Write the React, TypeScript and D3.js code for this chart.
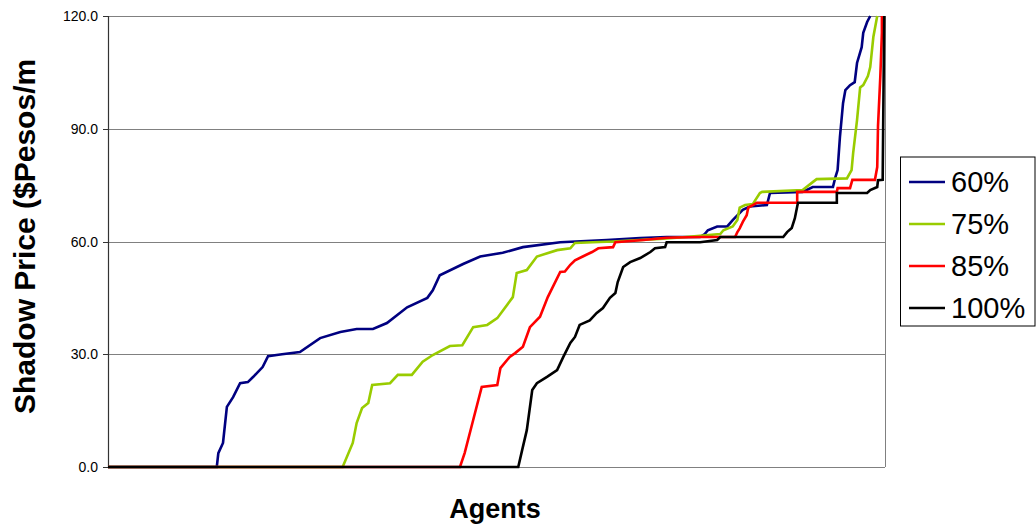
import React from "react";
import * as d3 from "d3";

// Agent index (0..1000) vs shadow price
const series60: [number, number][] = [
  [0, 0], [140, 0], [142, 3.7], [148, 6.4], [153, 16], [161, 18.6], [170, 22.3], [180, 22.6], [187, 24],
  [199, 26.6], [206, 29.5], [224, 30], [247, 30.6], [273, 34.3], [299, 35.9], [320, 36.7], [341, 36.7],
  [359, 38.3], [385, 42.5], [411, 45], [418, 47], [427, 51], [457, 54], [479, 56], [508, 57], [534, 58.5],
  [582, 59.8], [642, 60.4], [685, 60.9], [719, 61.2], [762, 61.2], [768, 62], [772, 63], [784, 64],
  [797, 64], [804, 65.7], [817, 68.4], [826, 69.3], [848, 69.7], [852, 72.9], [894, 73.2], [907, 74.5],
  [933, 74.5], [936, 77], [939, 79], [942, 87.8], [946, 96.8], [949, 100.3], [955, 101.6], [961, 102.4],
  [964, 107.5], [970, 111.7], [972, 115.5], [977, 118.4], [981, 120],
];
const series75: [number, number][] = [
  [0, 0], [302, 0], [315, 6.4], [320, 11.7], [327, 15.7], [335, 17], [340, 21.8], [363, 22.3], [373, 24.5],
  [391, 24.5], [405, 28], [418, 29.8], [440, 32.2], [456, 32.4], [470, 37.2], [488, 37.8], [501, 39.6],
  [521, 45.2], [526, 51.6], [539, 52.4], [552, 56], [578, 57.7], [595, 58.2], [601, 59.6], [624, 59.8],
  [650, 60], [710, 60.7], [732, 61], [788, 62], [792, 63], [804, 64], [810, 65.7], [813, 69], [820, 69.7],
  [830, 70], [839, 72.9], [842, 73.2], [894, 73.7], [907, 75.8], [912, 76.6], [951, 76.8], [957, 79],
  [959, 83.5], [964, 92.3], [968, 101], [972, 101.6], [978, 104], [981, 106.4], [985, 114.4], [990, 120],
];
const series85: [number, number][] = [
  [0, 0], [453, 0], [459, 3.7], [470, 12.5], [481, 21.3], [501, 21.8], [505, 26.3], [517, 29.3],
  [524, 30.3], [534, 32], [543, 37.2], [556, 40], [566, 45.2], [582, 51.9], [588, 52], [595, 53.8],
  [601, 55], [611, 56], [623, 57.2], [631, 58.2], [650, 58.5], [653, 59.8], [689, 60.4], [719, 61],
  [762, 61.2], [807, 61.2], [810, 62.5], [813, 63.5], [817, 65.2], [822, 67], [824, 69], [830, 69.7],
  [835, 70.3], [887, 70.3], [887, 73.2], [938, 73.2], [939, 74.2], [955, 74.2], [958, 76.4], [987, 76.4],
  [990, 79.8], [991, 90.7], [994, 104], [996, 115.5], [996, 120],
];
const series100: [number, number][] = [
  [0, 0], [528, 0], [533, 4.5], [539, 9.8], [546, 20.5], [552, 22.3], [565, 24], [578, 25.8], [586, 29.3],
  [595, 33], [601, 34.6], [607, 37.8], [620, 39], [629, 41], [637, 42.3], [646, 45], [653, 46.3],
  [656, 49.2], [663, 53.2], [672, 54.5], [685, 55.6], [698, 57.2], [704, 58.2], [717, 58.5], [719, 59.8],
  [762, 59.8], [784, 60.4], [788, 61.2], [869, 61.2], [874, 62.5], [880, 63.6], [884, 66.2], [887, 69.3],
  [888, 70.3], [938, 70.3], [938, 72.9], [977, 72.9], [981, 73.7], [990, 74.5], [991, 76.3], [997, 76.4],
  [999, 120],
];

const seriesNames = ["60%", "75%", "85%", "100%"];
const seriesColors = ["#000080", "#99CC00", "#FF0000", "#000000"];
const seriesData = [series60, series75, series85, series100];
const yTicks = [0, 30, 60, 90, 120];

const FONT = "Arial, 'Liberation Sans', Helvetica, sans-serif";

export default function App() {
  const W = 1036;
  const H = 529;
  const x = d3.scaleLinear().domain([0, 1000]).range([108, 885]);
  const y = d3.scaleLinear().domain([0, 120]).range([467, 16]);
  const line = d3
    .line<[number, number]>()
    .x((d) => x(d[0]))
    .y((d) => y(d[1]));

  const legendX = 900.5;
  const legendY = 157;
  const legendRow = 42;

  return (
    <svg
      width={W}
      height={H}
      style={{ position: "absolute", left: 0, top: 0, background: "#fff" }}
      fontFamily={FONT}
    >
      <defs>
        <clipPath id="ylabClip">
          <rect x={0} y={59} width={60} height={470} />
        </clipPath>
      </defs>
      <rect x={0} y={0} width={W} height={H} fill="#fff" />
      {/* gridlines */}
      {yTicks.map((t) => (
        <line key={t} x1={108} x2={885} y1={Math.round(y(t)) + 0.5} y2={Math.round(y(t)) + 0.5} stroke="#808080" strokeWidth={1} />
      ))}
      {/* right border */}
      <line x1={885.5} x2={885.5} y1={y(120)} y2={y(0)} stroke="#808080" strokeWidth={1} />
      {/* y axis */}
      <line x1={108.5} x2={108.5} y1={y(120)} y2={y(0) + 1} stroke="#333" strokeWidth={1.2} />
      {yTicks.map((t) => (
        <g key={"t" + t}>
          <line x1={103} x2={108} y1={Math.round(y(t)) + 0.5} y2={Math.round(y(t)) + 0.5} stroke="#333" strokeWidth={1} />
          <text x={98} y={y(t)} dy="0.36em" textAnchor="end" fontSize={14} fill="#000">
            {t.toFixed(1)}
          </text>
        </g>
      ))}
      {/* series */}
      {seriesData.map((s, i) => (
        <path
          key={seriesNames[i]}
          d={line(s) || ""}
          fill="none"
          stroke={seriesColors[i]}
          strokeWidth={2.6}
          strokeLinejoin="miter"
          strokeLinecap="butt"
        />
      ))}
      {/* axis titles */}
      <g clipPath="url(#ylabClip)">
        <text
          transform="translate(35,414) rotate(-90)"
          textAnchor="start"
          fontSize={30}
          fontWeight="bold"
          fill="#000"
        >
          Shadow Price ($Pesos/m3)
        </text>
      </g>
      <text x={495} y={518} textAnchor="middle" fontSize={27} fontWeight="bold" fill="#000">
        Agents
      </text>
      {/* legend */}
      <rect x={legendX} y={legendY} width={134.5} height={169} fill="#fff" stroke="#000" strokeWidth={1} />
      {seriesNames.map((n, i) => (
        <g key={"l" + n}>
          <line
            x1={909}
            x2={945}
            y1={legendY + 25 + i * legendRow}
            y2={legendY + 25 + i * legendRow}
            stroke={seriesColors[i]}
            strokeWidth={2.6}
          />
          <text x={951} y={legendY + 25 + i * legendRow} dy="0.36em" fontSize={29} fill="#000">
            {n}
          </text>
        </g>
      ))}
    </svg>
  );
}
